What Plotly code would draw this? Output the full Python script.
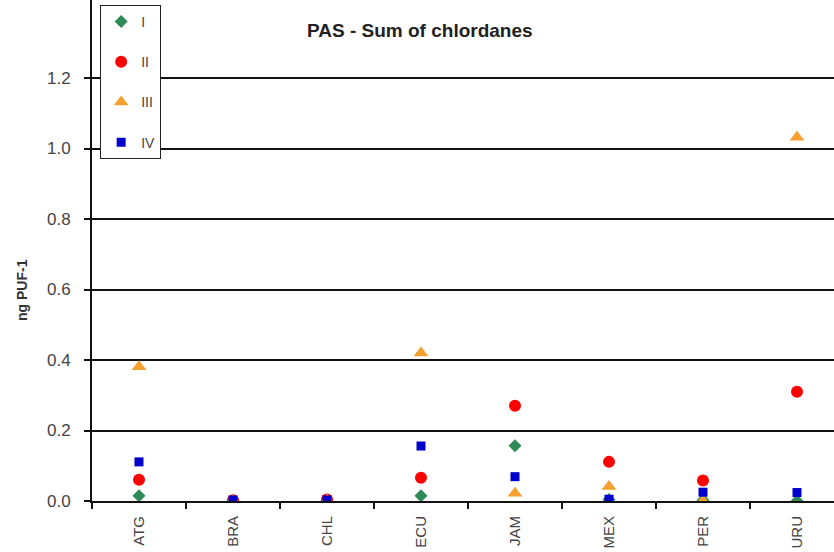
import plotly.graph_objects as go

# Sum of chlordanes measured by passive air samplers (PUF disks), per country and sampling period
countries = ["ATG", "BRA", "CHL", "ECU", "JAM", "MEX", "PER", "URU"]
period_i = [0.015, 0.002, 0.002, 0.015, 0.157, 0.004, 0.002, 0.0]
period_ii = [0.060, 0.002, 0.004, 0.066, 0.270, 0.111, 0.058, 0.310]
period_iii = [0.381, 0.002, 0.002, 0.420, 0.022, 0.041, 0.0, 1.032]
period_iv = [0.111, 0.003, 0.003, 0.156, 0.069, 0.005, 0.025, 0.024]

y_ticks = [0.0, 0.2, 0.4, 0.6, 0.8, 1.0, 1.2]

series = [
    ("I", period_i, "diamond", "#2E8B57", 10),
    ("II", period_ii, "circle", "#FF0000", 12),
    ("III", period_iii, "triangle-up", "#F5A030", 13),
    ("IV", period_iv, "square", "#0000CC", 9),
]

fig = go.Figure()
for name, vals, symbol, color, size in series:
    fig.add_trace(go.Scatter(
        x=countries, y=vals, mode="markers", name=name, legendgroup=name,
        marker=dict(symbol=symbol, color=color, size=size, line=dict(width=0)),
    ))

font_family = "Liberation Sans, Arial, sans-serif"
plot_left, plot_width, zero_px, plot_height = 92, 742, 501, 501

fig.update_layout(
    width=834, height=552,
    margin=dict(l=plot_left, r=0, t=0, b=552 - zero_px),
    paper_bgcolor="white", plot_bgcolor="white",
    showlegend=True,
    legend=dict(
        x=0.011, y=(zero_px - 159) / plot_height, xanchor="left", yanchor="bottom",
        bordercolor="#222222", borderwidth=1, bgcolor="white",
        font=dict(family=font_family, size=14, color="#444444"),
        tracegroupgap=19, itemwidth=30,
    ),
    annotations=[
        dict(text="<b>PAS - Sum of chlordanes</b>",
             x=(420 - plot_left) / plot_width, y=(zero_px - 30) / plot_height,
             xref="paper", yref="paper", xanchor="center", yanchor="middle",
             showarrow=False, font=dict(family=font_family, size=19, color="#222222")),
        dict(text="<b>ng PUF-1</b>", textangle=-90,
             x=(22 - plot_left) / plot_width, y=(zero_px - 290) / plot_height,
             xref="paper", yref="paper", xanchor="center", yanchor="middle",
             showarrow=False, font=dict(family=font_family, size=14, color="#333333")),
    ],
)

fig.update_xaxes(
    type="category", range=[-0.5, -0.5 + plot_width / 94],
    showline=True, linecolor="#111111", linewidth=2,
    ticks="outside", ticklen=6, tickcolor="#111111", tickwidth=2,
    tickson="boundaries", showgrid=False,
    tickangle=-90, ticklabelstandoff=7,
    tickfont=dict(family=font_family, size=15, color="#444444"),
)
fig.update_yaxes(
    range=[0, plot_height / 352.5],
    tickvals=y_ticks, ticktext=[f"{v:.1f}" for v in y_ticks],
    showline=True, linecolor="#111111", linewidth=2,
    ticks="outside", ticklen=6, tickcolor="#111111", tickwidth=2,
    showgrid=True, gridcolor="#111111", gridwidth=2,
    zeroline=False, ticklabelstandoff=10,
    tickfont=dict(family=font_family, size=17, color="#444444"),
)

fig.write_html("out.html")
